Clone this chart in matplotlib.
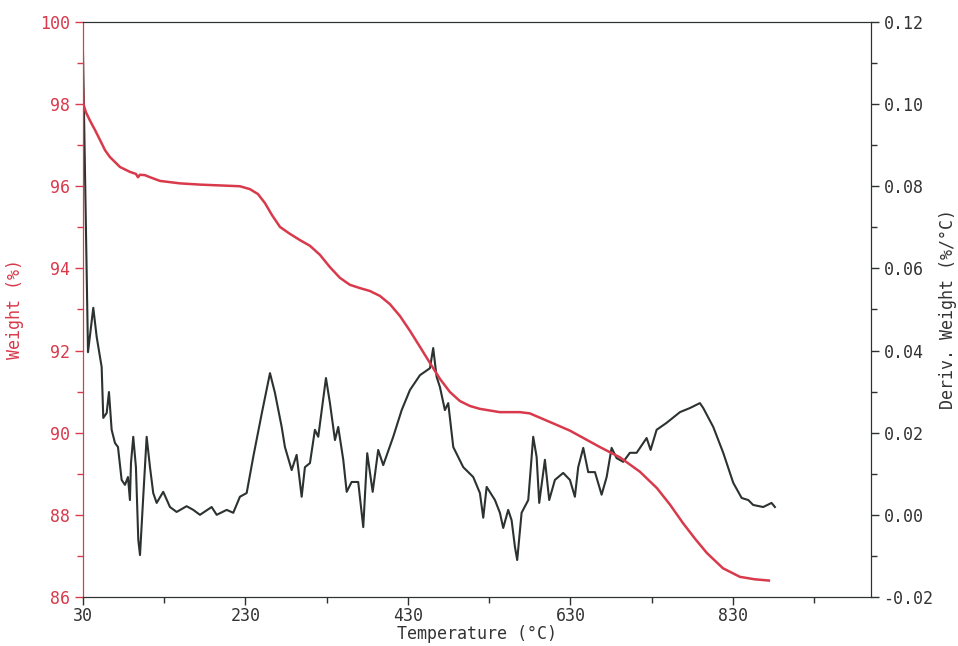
import numpy as np
import matplotlib
matplotlib.use('Agg')
import matplotlib.pyplot as plt
from matplotlib.ticker import MultipleLocator, FixedLocator

plt.rcParams['font.family'] = ['DejaVu Sans Mono']
plt.rcParams['axes.unicode_minus'] = False

RED = '#d83a4c'
DARK = '#2b3230'

# weight curve (deg C, %)
w_temp = [30, 30.5, 33.7, 38.6, 44.8, 50.9, 57.1, 63.2, 69.4, 75.5, 87.8, 95.2,
          97.7, 100.2, 106.3, 112.5, 124.8, 149.4, 174, 210.9, 223.2, 235.5,
          245.4, 254, 262.6, 272.5, 284.8, 297, 309.4, 321.7, 334, 346.3, 358.6,
          371, 383.2, 395.5, 407.8, 420.2, 432.5, 444.8, 457, 469.4, 481.7, 494,
          506.3, 518.6, 543, 567.8, 580, 604.8, 629.4, 666.3, 690.9, 715.5,
          736.5, 752.5, 768.5, 783.3, 798, 817.7, 838.6, 857, 874.3]
w_val = [98.35, 98.0, 97.8, 97.6, 97.37, 97.13, 96.88, 96.71, 96.59, 96.47,
         96.35, 96.3, 96.22, 96.28, 96.27, 96.22, 96.13, 96.07, 96.04, 96.01,
         96.0, 95.93, 95.81, 95.59, 95.3, 95.01, 94.84, 94.69, 94.55, 94.33,
         94.03, 93.77, 93.6, 93.52, 93.45, 93.33, 93.13, 92.84, 92.48, 92.09,
         91.7, 91.31, 90.99, 90.77, 90.65, 90.58, 90.5, 90.5, 90.47, 90.26,
         90.05, 89.65, 89.4, 89.05, 88.65, 88.25, 87.8, 87.42, 87.07, 86.7,
         86.49, 86.43, 86.4]

# derivative curve (deg C, %/deg C)
d_temp = [30, 36.2, 42.7, 46.9, 53.0, 55.0, 59.2, 62.0, 65.3, 69.4, 73.1, 77.6,
          81.7, 85.4, 87.8, 89.1, 91.9, 95.2, 98.1, 100.2, 104.2, 108.4, 112.5,
          116.5, 120.7, 128.8, 137.1, 145.3, 157.6, 165.8, 174.0, 188.4, 194.6,
          206.9, 215.0, 223.2, 231.5, 239.6, 250.2, 260.2, 266.3, 274.6, 278.6,
          286.9, 293.0, 299.2, 303.2, 309.4, 315.5, 319.6, 329.1, 334.0, 340.2,
          344.2, 350.4, 354.6, 360.7, 368.8, 375.0, 379.9, 386.6, 393.4, 399.6,
          411.9, 422.3, 432.5, 444.8, 457.1, 461.1, 465.3, 469.4, 475.5, 479.6,
          485.8, 498.1, 510.4, 518.6, 522.7, 526.9, 537.1, 543.2, 547.3, 553.4,
          557.6, 561.7, 564.5, 569.9, 578.1, 584.2, 588.4, 591.6, 598.6, 603.9,
          610.9, 621.1, 629.4, 635.5, 639.6, 645.8, 651.9, 660.2, 668.4, 674.6,
          680.7, 686.9, 695.0, 703.2, 711.5, 723.8, 728.7, 736.1, 748.4, 764.8,
          777.1, 789.4, 793.5, 805.8, 818.1, 830.4, 840.8, 848.9, 855.0, 867.3,
          877.6, 881.7]
d_val = [0.113, 0.0396, 0.0504, 0.0433, 0.0360, 0.0236, 0.0248, 0.0299, 0.0207,
         0.0175, 0.0165, 0.0085, 0.0073, 0.0092, 0.0036, 0.0126, 0.0190, 0.0116,
         -0.0061, -0.0098, 0.0044, 0.0190, 0.0116, 0.0053, 0.0029, 0.0056,
         0.0019, 0.0007, 0.0021, 0.0012, 0.0000, 0.0019, 0.0000, 0.0012, 0.0005,
         0.0044, 0.0053, 0.0141, 0.0248, 0.0345, 0.0297, 0.0214, 0.0165, 0.0109,
         0.0146, 0.0044, 0.0116, 0.0126, 0.0207, 0.0190, 0.0333, 0.0272, 0.0182,
         0.0214, 0.0134, 0.0056, 0.0080, 0.0080, -0.0030, 0.0150, 0.0056,
         0.0158, 0.0121, 0.0190, 0.0255, 0.0304, 0.0340, 0.0357, 0.0406, 0.0336,
         0.0311, 0.0255, 0.0272, 0.0165, 0.0116, 0.0092, 0.0053, -0.0007, 0.0068,
         0.0036, 0.0005, -0.0032, 0.0012, -0.0013, -0.0078, -0.0110, 0.0005,
         0.0036, 0.0190, 0.0141, 0.0029, 0.0134, 0.0036, 0.0085, 0.0102, 0.0085,
         0.0044, 0.0116, 0.0163, 0.0104, 0.0104, 0.0049, 0.0092, 0.0163, 0.0138,
         0.0129, 0.0151, 0.0151, 0.0187, 0.0158, 0.0207, 0.0224, 0.0250, 0.0260,
         0.0272, 0.0260, 0.0214, 0.0151, 0.0078, 0.0041, 0.0036, 0.0024, 0.0019,
         0.0029, 0.0019]

x_major = [30, 230, 430, 630, 830]
x_minor = [130, 330, 530, 730, 930]


def main():
    fig = plt.figure(figsize=(9.58, 6.46), dpi=100)
    ax = fig.add_axes([0.0866, 0.0759, 0.8226, 0.8901])
    ax2 = ax.twinx()

    ax.plot(w_temp, w_val, color=RED, lw=1.8, zorder=3)
    ax2.plot(d_temp, d_val, color=DARK, lw=1.5)
    ax.set_zorder(ax2.get_zorder() + 1)
    ax.patch.set_visible(False)

    ax.set_xlim(30, 1000)
    ax.set_ylim(86, 100)
    ax2.set_ylim(-0.02, 0.12)

    ax.xaxis.set_major_locator(FixedLocator(x_major))
    ax.xaxis.set_minor_locator(FixedLocator(x_minor))
    ax.yaxis.set_major_locator(MultipleLocator(2))
    ax.yaxis.set_minor_locator(MultipleLocator(1))
    ax2.yaxis.set_major_locator(MultipleLocator(0.02))
    ax2.yaxis.set_minor_locator(MultipleLocator(0.01))
    ax2.yaxis.set_major_formatter(lambda v, p: f'{v:.2f}')

    for a in (ax, ax2):
        a.tick_params(which='major', length=6, width=1, labelsize=12, pad=3)
        a.tick_params(which='minor', length=4, width=1)
        for s in a.spines.values():
            s.set_color(DARK)
    ax.tick_params(axis='x', which='major', pad=1)
    ax.tick_params(axis='y', which='both', colors=RED, labelcolor=RED)
    ax.tick_params(axis='x', which='both', colors=DARK, labelcolor='#333333')
    ax2.tick_params(axis='y', which='both', colors=DARK, labelcolor='#333333')
    ax.spines['left'].set_color(RED)
    ax2.spines['left'].set_color(RED)

    ax.set_xlabel('Temperature (°C)', fontsize=12, color='#333333', labelpad=0)
    ax.set_ylabel('Weight (%)', fontsize=12, color=RED, labelpad=12)
    ax2.set_ylabel('Deriv. Weight (%/°C)', fontsize=12, color='#333333',
                   labelpad=4)

    fig.savefig('out.png', dpi=100)


if __name__ == '__main__':
    main()
